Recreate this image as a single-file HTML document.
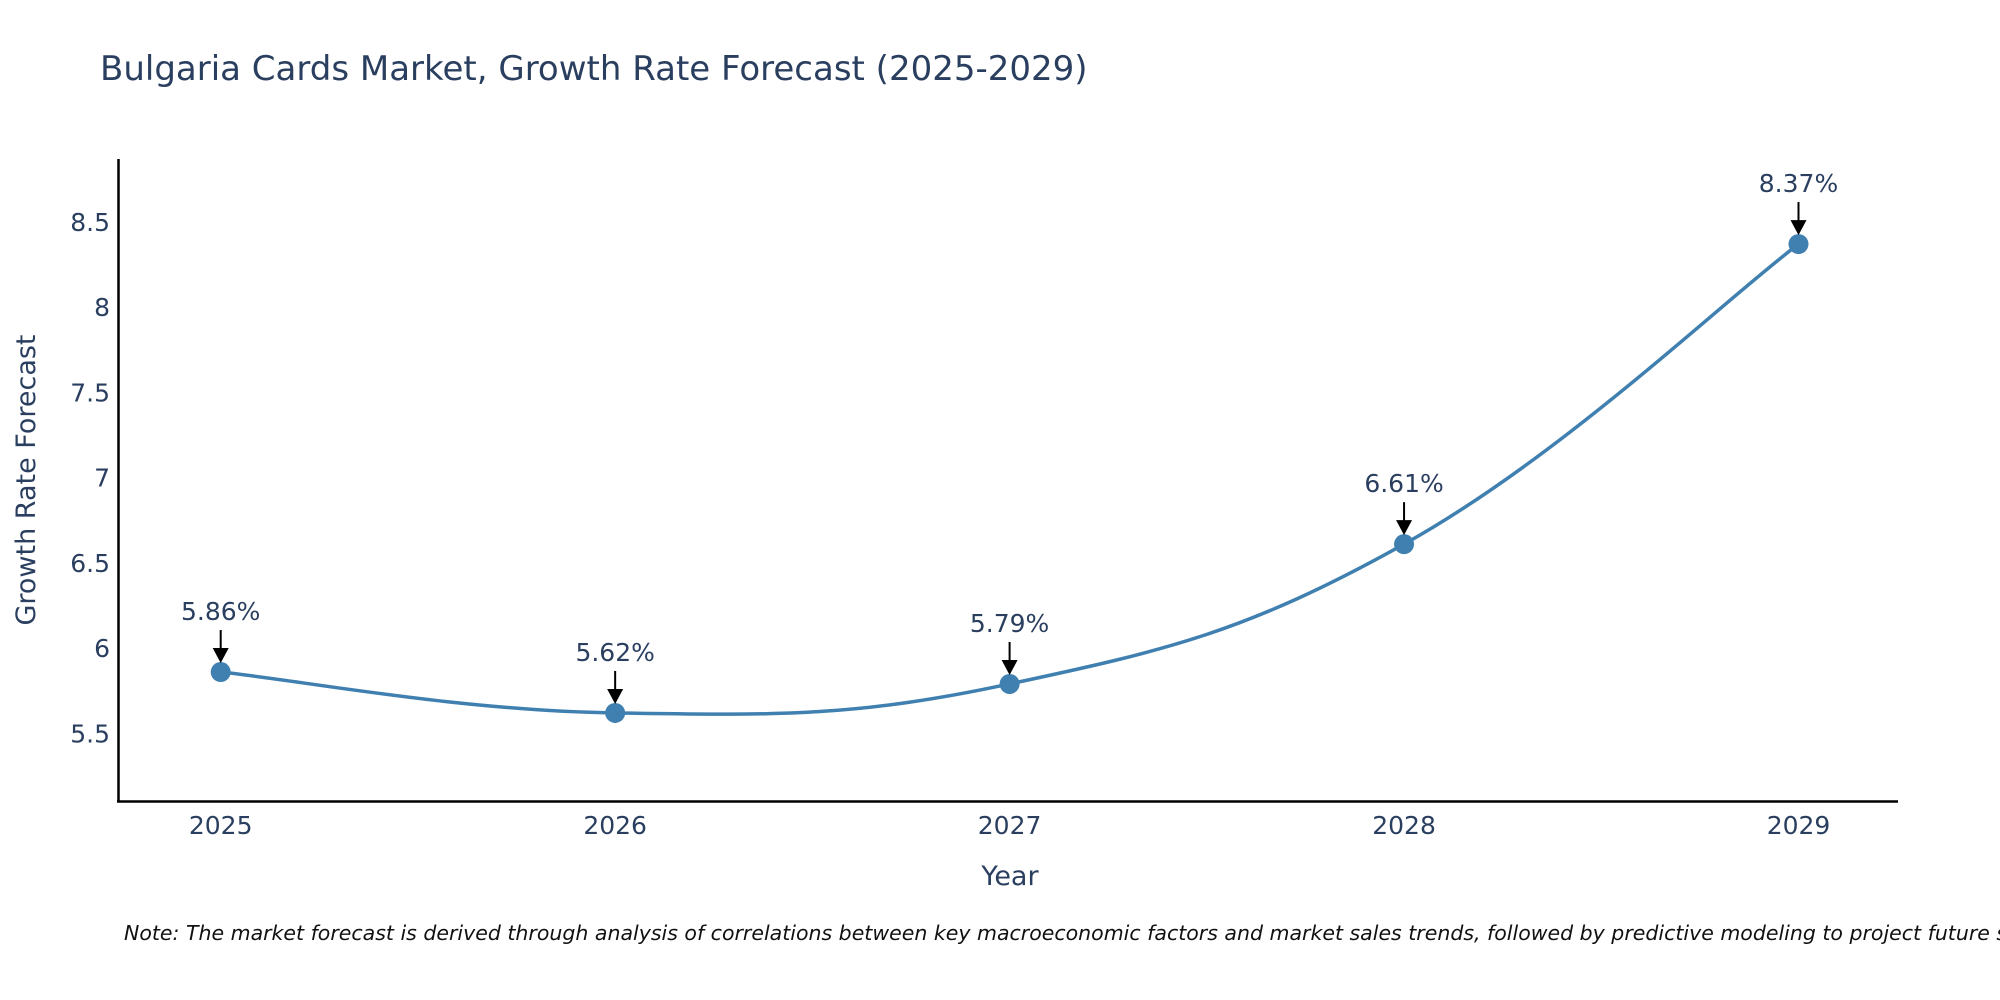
<!DOCTYPE html>
<html><head><meta charset="utf-8"><style>
body{margin:0;background:#fff;}
svg{display:block;font-family:"DejaVu Sans","Liberation Sans",sans-serif;}
</style></head><body>
<svg id="chart" width="2000" height="1000" viewBox="0 0 2000 1000">
<text x="100" y="80" font-size="34" fill="#2a3f5f">Bulgaria Cards Market, Growth Rate Forecast (2025-2029)</text>
<g id="yticks"></g><g id="xticks"></g>
<line x1="118.5" y1="159" x2="118.5" y2="802" stroke="#000" stroke-width="2.5"/>
<line x1="117" y1="801.5" x2="1898" y2="801.5" stroke="#000" stroke-width="2.5"/>
<g id="series"></g>
<text x="1010" y="885" font-size="27" fill="#2a3f5f" text-anchor="middle">Year</text>
<text transform="translate(35,480) rotate(-90)" font-size="27" fill="#2a3f5f" text-anchor="middle">Growth Rate Forecast</text>
<text x="124" y="940" font-size="20.5" font-style="italic" fill="#111">Note: The market forecast is derived through analysis of correlations between key macroeconomic factors and market sales trends, followed by predictive modeling to project future sales.</text>
</svg>
<script>
const years=[2025,2026,2027,2028,2029];
const values=[5.86,5.62,5.79,6.61,8.37];
const labels=["5.86%","5.62%","5.79%","6.61%","8.37%"];
const yTicks=[5.5,6,6.5,7,7.5,8,8.5];
const yTickLabels=["5.5","6","6.5","7","7.5","8","8.5"];
const NS="http://www.w3.org/2000/svg";
const xS=v=>220.7+(v-2025)*(1798.5-220.7)/4;
const yS=v=>733.4-(v-5.5)*170.5;
function mk(t,a,p){const e=document.createElementNS(NS,t);for(const k in a)e.setAttribute(k,a[k]);p.appendChild(e);return e;}
const yt=document.getElementById('yticks');
yTicks.forEach((v,i)=>{const t=mk('text',{x:110,y:yS(v)+9,'font-size':25,fill:'#2a3f5f','text-anchor':'end'},yt);


t.textContent=yTickLabels[i];});
const xt=document.getElementById('xticks');
years.forEach(v=>{const t=mk('text',{x:xS(v),y:834,'font-size':25,fill:'#2a3f5f','text-anchor':'middle'},xt);


t.textContent=v;});
const s=document.getElementById('series');
const P=years.map((y,i)=>[xS(y),yS(values[i])]);
let d=`M${P[0][0]},${P[0][1]}`;
const k=0.2;
for(let i=0;i<P.length-1;i++){const p0=P[Math.max(i-1,0)],p1=P[i],p2=P[i+1],p3=P[Math.min(i+2,P.length-1)];
d+=` C${p1[0]+(p2[0]-p0[0])*k},${p1[1]+(p2[1]-p0[1])*k} ${p2[0]-(p3[0]-p1[0])*k},${p2[1]-(p3[1]-p1[1])*k} ${p2[0]},${p2[1]}`;}
const ln=mk('path',{d:d,fill:'none',stroke:'#4080b0','stroke-width':3.5},s);


P.forEach((p,i)=>{
const c=mk('circle',{cx:p[0],cy:p[1],r:10,fill:'#4080b0'},s);


const a=mk('line',{x1:p[0],y1:p[1]-42,x2:p[0],y2:p[1]-22,stroke:'#000','stroke-width':2},s);


const h=mk('polygon',{points:`${p[0]-8},${p[1]-24} ${p[0]+8},${p[1]-24} ${p[0]},${p[1]-9}`,fill:'#000'},s);


const t=mk('text',{x:p[0],y:p[1]-52,'font-size':25,fill:'#2a3f5f','text-anchor':'middle'},s);


t.textContent=labels[i];});
</script>
</body></html>
